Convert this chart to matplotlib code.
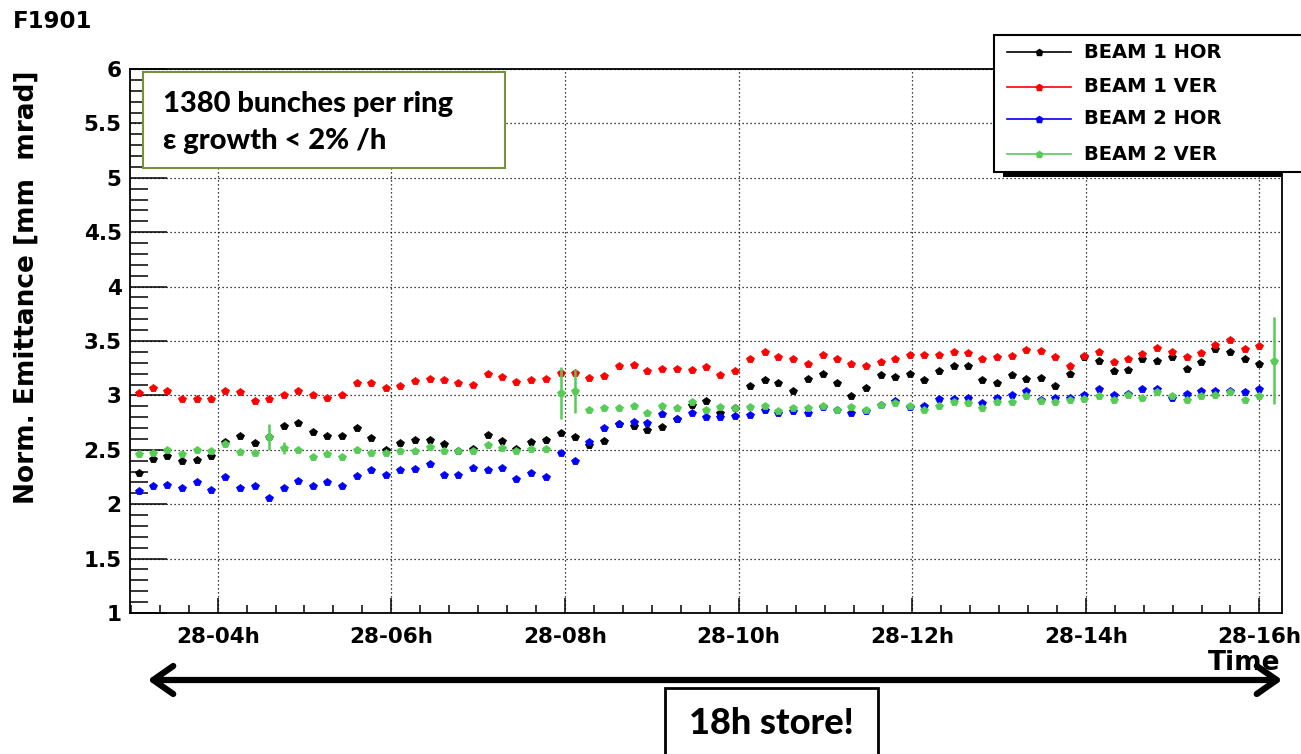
import matplotlib
matplotlib.use('Agg')
import matplotlib.pyplot as plt
from matplotlib.patches import Rectangle, FancyArrowPatch
from matplotlib.lines import Line2D
from matplotlib.ticker import MultipleLocator, FixedLocator

# ---------------- data ----------------
time_h = [3.09, 3.25, 3.42, 3.59, 3.76, 3.92, 4.09, 4.26, 4.43, 4.59,
          4.76, 4.93, 5.10, 5.26, 5.43, 5.60, 5.77, 5.94, 6.10, 6.27,
          6.44, 6.61, 6.77, 6.94, 7.11, 7.28, 7.44, 7.61, 7.78, 7.95,
          8.12, 8.28, 8.45, 8.62, 8.79, 8.95, 9.12, 9.29, 9.46, 9.62,
          9.79, 9.96, 10.13, 10.30, 10.46, 10.63, 10.80, 10.97, 11.13, 11.30,
          11.47, 11.64, 11.80, 11.97, 12.14, 12.31, 12.48, 12.64, 12.81, 12.98,
          13.15, 13.31, 13.48, 13.65, 13.82, 13.98, 14.15, 14.32, 14.49, 14.65,
          14.82, 14.99, 15.16, 15.33, 15.49, 15.66, 15.83, 16.00, 16.17]

beam1_hor = [2.29, 2.42, 2.44, 2.40, 2.41, 2.44, 2.57, 2.63, 2.56, 2.62,
             2.72, 2.75, 2.66, 2.63, 2.63, 2.70, 2.61, 2.50, 2.56, 2.59,
             2.59, 2.55, 2.49, 2.51, 2.64, 2.58, 2.51, 2.57, 2.59, 2.65,
             2.62, 2.54, 2.58, 2.74, 2.72, 2.68, 2.71, 2.78, 2.91, 2.95,
             2.84, 2.88, 3.09, 3.14, 3.11, 3.04, 3.15, 3.20, 3.11, 2.99,
             3.07, 3.19, 3.17, 3.20, 3.14, 3.22, 3.27, 3.27, 3.14, 3.11,
             3.19, 3.15, 3.16, 3.09, 3.20, 3.35, 3.32, 3.22, 3.23, 3.33,
             3.32, 3.35, 3.24, 3.31, 3.43, 3.40, 3.33, 3.29]

beam1_ver = [3.02, 3.07, 3.04, 2.97, 2.97, 2.97, 3.04, 3.03, 2.95, 2.97,
             3.00, 3.04, 3.00, 2.98, 3.00, 3.11, 3.11, 3.07, 3.09, 3.13,
             3.15, 3.14, 3.11, 3.10, 3.20, 3.17, 3.12, 3.14, 3.15, 3.21,
             3.21, 3.16, 3.18, 3.27, 3.28, 3.22, 3.24, 3.24, 3.23, 3.26,
             3.19, 3.22, 3.33, 3.40, 3.35, 3.33, 3.29, 3.37, 3.33, 3.29,
             3.27, 3.31, 3.33, 3.37, 3.37, 3.37, 3.40, 3.39, 3.33, 3.35,
             3.36, 3.42, 3.41, 3.35, 3.27, 3.36, 3.40, 3.31, 3.33, 3.38,
             3.44, 3.40, 3.35, 3.39, 3.46, 3.51, 3.43, 3.45]

beam2_hor = [2.12, 2.17, 2.18, 2.15, 2.20, 2.13, 2.25, 2.15, 2.17, 2.06,
             2.15, 2.21, 2.17, 2.20, 2.17, 2.26, 2.31, 2.27, 2.31, 2.32,
             2.37, 2.27, 2.27, 2.33, 2.31, 2.33, 2.23, 2.29, 2.25, 2.47,
             2.40, 2.57, 2.70, 2.74, 2.76, 2.75, 2.83, 2.78, 2.84, 2.80,
             2.80, 2.81, 2.82, 2.87, 2.84, 2.86, 2.84, 2.89, 2.87, 2.84,
             2.86, 2.91, 2.95, 2.89, 2.90, 2.97, 2.97, 2.98, 2.93, 2.98,
             3.00, 3.04, 2.96, 2.98, 2.98, 3.00, 3.06, 3.00, 3.01, 3.06,
             3.06, 2.98, 3.01, 3.04, 3.04, 3.04, 3.03, 3.06]

beam2_ver = [2.46, 2.47, 2.50, 2.46, 2.50, 2.49, 2.55, 2.48, 2.47, 2.62,
             2.52, 2.50, 2.43, 2.46, 2.43, 2.50, 2.47, 2.47, 2.49, 2.49,
             2.53, 2.49, 2.49, 2.49, 2.54, 2.52, 2.49, 2.51, 2.51, 3.02,
             3.04, 2.87, 2.88, 2.88, 2.90, 2.84, 2.90, 2.88, 2.94, 2.87,
             2.89, 2.88, 2.89, 2.90, 2.86, 2.88, 2.88, 2.90, 2.87, 2.89,
             2.87, 2.91, 2.93, 2.90, 2.87, 2.90, 2.94, 2.93, 2.88, 2.94,
             2.94, 2.99, 2.95, 2.94, 2.96, 2.97, 2.99, 2.96, 3.00, 2.98,
             3.03, 2.99, 2.96, 2.99, 3.00, 3.03, 2.96, 2.99, 3.32]

# visible error bars of BEAM 2 VER (index into time_h, half-length)
b2v_err_idx = [9, 10, 29, 30, 78]
b2v_err_val = [0.12, 0.055, 0.24, 0.20, 0.40]

tick_hours = [4, 6, 8, 10, 12, 14, 16]
tick_labels = ['28-04h', '28-06h', '28-08h', '28-10h', '28-12h', '28-14h', '28-16h']

series_names = ['BEAM 1 HOR', 'BEAM 1 VER', 'BEAM 2 HOR', 'BEAM 2 VER']
series_colors = ['#000000', '#ff0000', '#0000ff', '#55cc55']

# ---------------- figure ----------------
W, H = 1301, 754
def fx(x):
    return x / W
def fy(y):
    return 1 - y / H

ROOT_FONT = 'DejaVu Sans'
CAL_FONT = ['Lato', 'DejaVu Serif']

fig = plt.figure(figsize=(W / 100, H / 100), dpi=100)
ax = fig.add_axes([fx(130), fy(613), (1282 - 130) / W, (613 - 69) / H])

mk = dict(ls='none', marker='p', ms=5.6, mew=0.6)
series = [beam1_hor, beam1_ver, beam2_hor, beam2_ver]
for vals, c, z in zip(series, series_colors, [3, 4, 5, 6]):
    ax.plot(time_h[:len(vals)], vals, color=c, mec=c, zorder=z, **mk)

ex = [time_h[i] for i in b2v_err_idx]
ey = [beam2_ver[i] for i in b2v_err_idx]
ax.vlines(ex, [v - e for v, e in zip(ey, b2v_err_val)],
          [v + e for v, e in zip(ey, b2v_err_val)],
          color=series_colors[3], lw=1.8, zorder=6)

ax.set_xlim(2.99, 16.26)
ax.set_ylim(1, 6)

ax.xaxis.set_major_locator(FixedLocator(tick_hours))
ax.set_xticklabels(tick_labels)
ax.xaxis.set_minor_locator(MultipleLocator(1 / 3))
ax.yaxis.set_major_locator(MultipleLocator(0.5))
ax.yaxis.set_minor_locator(MultipleLocator(0.1))
ax.yaxis.set_major_formatter(plt.FuncFormatter(lambda v, p: ('%g' % v)))

ax.tick_params(axis='y', which='major', direction='in', length=26.5, width=1.1,
               labelsize=15.5, pad=6, right=False)
ax.tick_params(axis='y', which='minor', direction='in', length=13, width=1.1, right=False)
ax.tick_params(axis='x', which='major', direction='in', length=11, width=1.1,
               labelsize=15.5, pad=10, top=False)
ax.tick_params(axis='x', which='minor', direction='in', length=5.5, width=1.1, top=False)
for lab in ax.get_xticklabels() + ax.get_yticklabels():
    lab.set_fontweight('bold')
    lab.set_family(ROOT_FONT)

ax.grid(True, which='major', color='black', lw=0.9, ls=(0, (1, 2.2)), zorder=1)
ax.set_axisbelow(True)
for s in ax.spines.values():
    s.set_linewidth(1.3)

# axis titles
fig.text(fx(27), fy(70), 'Norm. Emittance [mm  mrad]', rotation=90, ha='center', va='top',
         fontsize=19, fontweight='bold', family=ROOT_FONT)
fig.text(fx(1280), fy(663), 'Time', ha='right', va='center', fontsize=19,
         fontweight='bold', family=ROOT_FONT)
fig.text(fx(13), fy(22), 'F1901', ha='left', va='center', fontsize=16.5,
         fontweight='bold', family=ROOT_FONT)

# info box
fig.add_artist(Rectangle((fx(143), fy(168)), (505 - 143) / W, (168 - 72) / H,
                         transform=fig.transFigure, facecolor='white',
                         edgecolor='#76923c', lw=1.5, zorder=5))
fig.text(fx(163), fy(104), '1380 bunches per ring', ha='left', va='center',
         fontsize=21, fontweight='black', family=CAL_FONT, zorder=6)
fig.text(fx(163), fy(141), '\u03b5 growth < 2% /h', ha='left', va='center',
         fontsize=21, fontweight='black', family=CAL_FONT, zorder=6)

# legend box (manual, ROOT style with shadow)
fig.add_artist(Rectangle((fx(1003), fy(177)), (1282 - 1003) / W, 5 / H,
                         transform=fig.transFigure, facecolor='black',
                         edgecolor='none', zorder=5))
fig.add_artist(Rectangle((fx(994), fy(172)), (1330 - 994) / W, (172 - 35) / H,
                         transform=fig.transFigure, facecolor='white',
                         edgecolor='black', lw=1.5, zorder=6))
rows = [52, 87, 119, 154]
for name, c, yy in zip(series_names, series_colors, rows):
    fig.add_artist(Line2D([fx(1007), fx(1071)], [fy(yy), fy(yy)], transform=fig.transFigure,
                          color=c, lw=1.2, zorder=7))
    fig.add_artist(Line2D([fx(1039)], [fy(yy)], transform=fig.transFigure,
                          color=c, marker='p', ms=4.5, ls='none', zorder=8))
    fig.text(fx(1084), fy(yy), name, ha='left', va='center', fontsize=14,
             fontweight='bold', family=ROOT_FONT, zorder=8)

# double arrow and store box
fig.add_artist(FancyArrowPatch((fx(145), fy(680)), (fx(1285), fy(680)),
                               transform=fig.transFigure,
                               arrowstyle='<->,head_length=0.4,head_width=0.28',
                               mutation_scale=36, lw=4.5, color='black', zorder=5))
fig.add_artist(Rectangle((fx(665), fy(770)), (878 - 665) / W, (770 - 688) / H,
                         transform=fig.transFigure, facecolor='white',
                         edgecolor='black', lw=2, zorder=6))
fig.text(fx(771), fy(723), '18h store!', ha='center', va='center', fontsize=26,
         fontweight='black', family=CAL_FONT, zorder=7)

fig.savefig('out.png', dpi=100)
